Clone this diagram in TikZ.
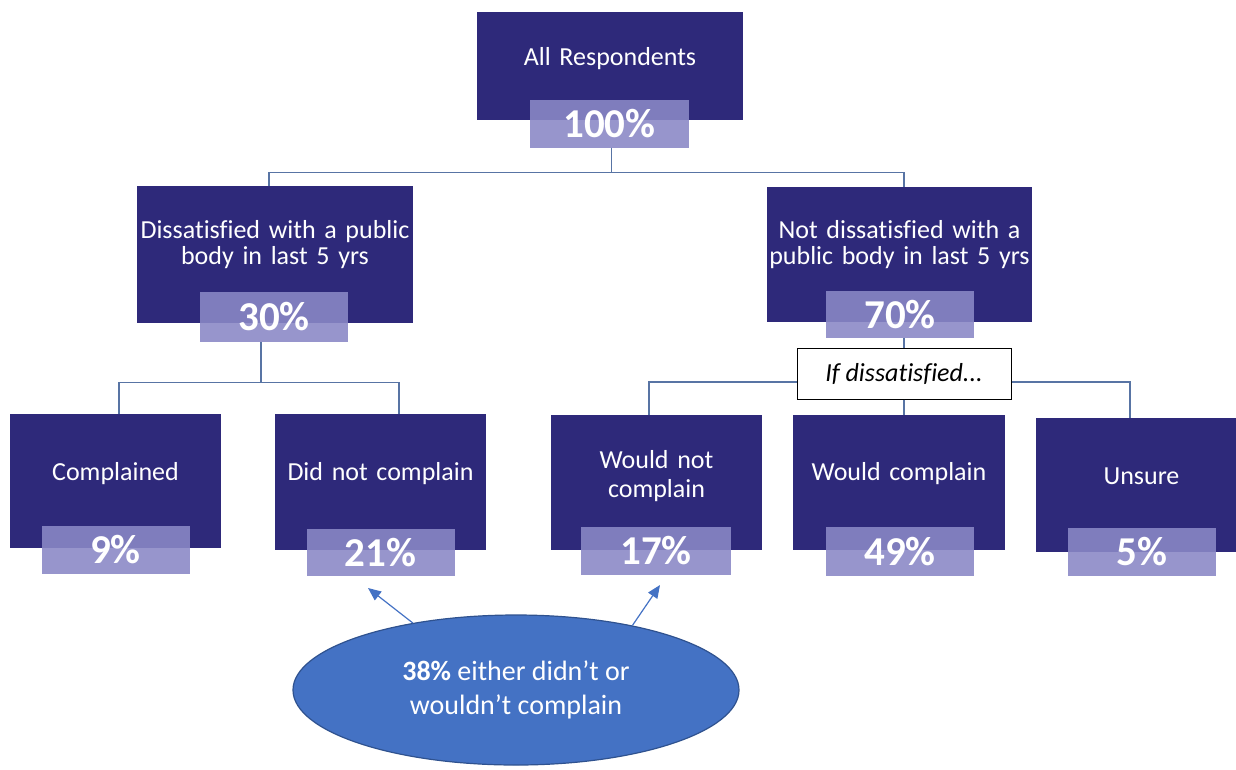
\documentclass[tikz,border=0pt]{standalone}
\usepackage{fontspec}
\setmainfont{Carlito}[Ligatures={TeX,NoCommon}]
\usetikzlibrary{shapes.geometric,arrows.meta}

\definecolor{navy}{RGB}{46,41,122}
\definecolor{lav}{RGB}{138,136,198}
\definecolor{linkcol}{RGB}{88,116,164}
\definecolor{bubblecol}{RGB}{68,114,196}
\definecolor{bubbleline}{RGB}{47,82,143}

\tikzstyle{box} = [rectangle, fill=navy, text=white, anchor=north, inner sep=0pt, align=center, font=\fontsize{26}{26}\selectfont]
\tikzstyle{pct} = [rectangle, fill=lav, fill opacity=0.89, text opacity=1, text=white, minimum width=148pt, minimum height=48pt, inner sep=0pt, font=\fontsize{41}{41}\selectfont\bfseries]
\tikzstyle{note} = [rectangle, draw=black, fill=white, line width=1pt, minimum width=214pt, minimum height=51pt, inner sep=0pt, font=\fontsize{26}{26}\selectfont\itshape]
\tikzstyle{bubble} = [ellipse, fill=bubblecol, draw=bubbleline, line width=1.2pt, minimum width=446pt, minimum height=150pt, inner sep=0pt, text=white, align=center, font=\fontsize{28}{34}\selectfont]
\tikzstyle{link} = [draw=linkcol, line width=1.2pt]
\tikzstyle{arr} = [draw=bubblecol, line width=1.2pt, -{Triangle[length=13pt,width=11pt]}]

\begin{document}
\begin{tikzpicture}[x=1pt,y=-1pt]
\useasboundingbox (0,0) rectangle (1236,769);

\node[box, text width=266pt, text height=53pt, text depth=55pt] (All) at (610,12) {All Respondents};
\node[pct, minimum width=159pt] (P100) at (609.5,123.5) {100\%};

\node[box, text width=276pt, text height=52pt, text depth=85pt] (Dis) at (275,186) {Dissatisfied with a public\\body in last 5 yrs};
\node[pct, minimum height=50pt] (P30) at (274,317) {30\%};

\node[box, text width=265pt, text height=51pt, text depth=84pt] (NotDis) at (899.5,187) {Not dissatisfied with a\\public body in last 5 yrs};
\node[pct, minimum height=47pt] (P70) at (900,314.5) {70\%};

\node[note] (IfDis) at (904,373.5) {If dissatisfied...};

% bottom row
\node[box, text width=211pt, text height=66pt, text depth=68pt] (Compl) at (115.5,414) {Complained};
\node[pct] (P9) at (115.5,550) {9\%};
\node[box, text width=211pt, text height=66pt, text depth=70pt] (DidNot) at (380.5,414) {Did not complain};
\node[pct, minimum height=47pt] (P21) at (380.5,552.5) {21\%};
\node[box, text width=211pt, text height=53pt, text depth=82pt] (WouldNot) at (656.5,415) {Would not\\[3pt]complain};
\node[pct, minimum width=150pt] (P17) at (656,551) {17\%};
\node[box, text width=212pt, text height=65pt, text depth=70pt] (WouldC) at (899,415) {Would complain};
\node[pct, minimum height=49pt] (P49) at (900,551.5) {49\%};
\node[box, text width=211pt, text height=66pt, text depth=68pt] (Unsure) at (1141.5,418) {Unsure};
\node[pct] (P5) at (1142,552) {5\%};

\node[bubble] (Either) at (516,690) {{\bfseries 38\%} either didn’t or\\wouldn’t complain};
\coordinate (tipL) at (368,588);
\coordinate (tipR) at (660,585);

% tree lines
\draw[link] ([xshift=2pt]P100.south) -- ++(0,24.5) -| ([xshift=-6pt]Dis.north);
\draw[link] ([xshift=2pt]P100.south) -- ++(0,24.5) -| ([xshift=4.5pt]NotDis.north);
\draw[link] ([xshift=-13pt]P30.south) -- ++(0,40) -| ([xshift=3.5pt]Compl.north);
\draw[link] ([xshift=-13pt]P30.south) -- ++(0,40) -| ([xshift=18.5pt]DidNot.north);
\draw[link] (P70.south -| IfDis.north) -- (IfDis.north);
\draw[link] (IfDis.south) -- (IfDis.south |- WouldC.north);
\draw[link] ([yshift=-8.5pt]IfDis.west) -| ([xshift=-7.5pt]WouldNot.north);
\draw[link] ([yshift=-8.5pt]IfDis.east) -| ([xshift=-11.5pt]Unsure.north);

\path
  (Either.147) edge[arr] (tipL)
  (Either.29) edge[arr] (tipR);

\end{tikzpicture}
\end{document}
